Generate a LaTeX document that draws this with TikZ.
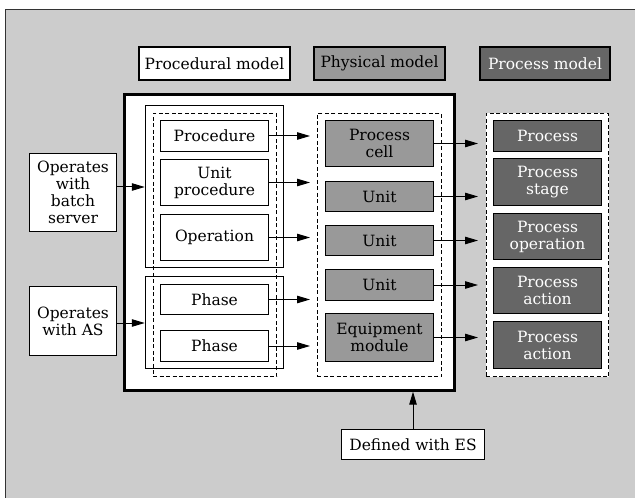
\documentclass[tikz,border=0pt]{standalone}
\usepackage{fontspec}
\setmainfont{DejaVu Serif}
\usetikzlibrary{arrows.meta,calc}
\definecolor{bggray}{HTML}{CCCCCC}
\definecolor{midgray}{HTML}{999999}
\definecolor{darkgray}{HTML}{666666}
\begin{document}
\begin{tikzpicture}[x=1bp,y=-1bp,
  txt/.style={font=\fontsize{15.5bp}{17bp}\selectfont, align=center},
  box/.style={draw, line width=1bp, fill=white, txt, inner sep=0pt},
  phys/.style={box, fill=midgray},
  proc/.style={box, fill=darkgray, text=white},
  lbl/.style={draw, line width=2bp, txt, inner sep=0pt},
  arr/.style={line width=1bp, -{Triangle[length=13bp,width=7.5bp]}},
  dashbox/.style={draw, line width=1bp, dash pattern=on 4bp off 2.5bp}
]
\useasboundingbox (0,0) rectangle (635,498);
% background
\fill[bggray] (5.5,9.5) rectangle (635,498);
\draw[line width=1bp, black!80] (5.5,498) -- (5.5,9.5) -- (634.5,9.5);

\newcommand{\bx}[6]{\node[#1, minimum width={#4-#2}, minimum height={#5-#3}] (#6) at ({(#2+#4)/2},{(#3+#5)/2})}

% model labels
\bx{lbl, fill=white}{139}{47}{290}{80}{pm} {Procedural model};
\bx{lbl, fill=midgray}{314}{47}{445}{80}{phm} {Physical model};
\bx{lbl, fill=darkgray, text=white}{480}{47}{610}{80}{prm} {Process model};

% main frame
\bx{draw, line width=2.5bp, fill=white}{124}{94}{455}{391}{main} {};

% procedural containers
\bx{draw, line width=1bp}{145}{105}{284}{268}{solidA} {};
\bx{draw, line width=1bp}{145}{276}{284}{369}{solidB} {};
\bx{dashbox}{153}{113}{277}{377}{dashL} {};

\bx{box}{160}{120}{269}{152}{procedure} {Procedure};
\bx{box}{160}{159}{269}{206}{unitproc} {Unit\\procedure};
\bx{box}{160}{214}{269}{261}{operation} {Operation};
\bx{box}{160}{284}{269}{315}{phaseA} {Phase};
\bx{box}{160}{330}{269}{362}{phaseB} {Phase};

% physical
\bx{dashbox}{317}{113}{442}{377}{dashM} {};
\bx{phys}{325}{120}{434}{167}{pcell} {Process\\cell};
\bx{phys}{325}{181}{434}{212}{unitA} {Unit};
\bx{phys}{325}{225}{434}{256}{unitB} {Unit};
\bx{phys}{325}{269}{434}{301}{unitC} {Unit};
\bx{phys}{325}{313}{434}{362}{equip} {Equipment\\module};

% process
\bx{dashbox, fill=white}{486}{113}{609}{377}{dashR} {};
\bx{proc}{493}{120}{602}{152}{process} {Process};
\bx{proc}{493}{158}{602}{206}{pstage} {Process\\stage};
\bx{proc}{493}{213}{602}{260}{poper} {Process\\operation};
\bx{proc}{493}{267}{602}{314}{pactA} {Process\\action};
\bx{proc}{493}{321}{602}{369}{pactB} {Process\\action};

% left and bottom
\bx{box}{29}{153}{117}{232}{batch} {Operates\\with\\batch\\server};
\bx{box}{29}{286}{117}{356}{as} {Operates\\with AS};
\bx{box}{341}{429}{485}{460}{es} {Defined with ES};

% end points
\coordinate (tL) at (310,0);
\coordinate (tR) at (478,0);
\coordinate (xes) at (413,0);
\coordinate (yb) at (0,187);
\coordinate (ya) at (0,323);

% arrows procedural -> physical
\foreach \n in {procedure,unitproc,operation,phaseA,phaseB}
  \draw[arr] (\n.east) -- (\n.east -| tL);
% arrows physical -> process
\foreach \n in {pcell,unitA,unitB,unitC,equip}
  \draw[arr] (\n.east) -- (\n.east -| tR);

\draw[arr] (batch.east |- yb) -- (solidA.west |- yb);
\draw[arr] (as.east |- ya) -- (solidB.west |- ya);
\draw[arr] (es.north -| xes) -- (main.south -| xes);
\end{tikzpicture}
\end{document}
